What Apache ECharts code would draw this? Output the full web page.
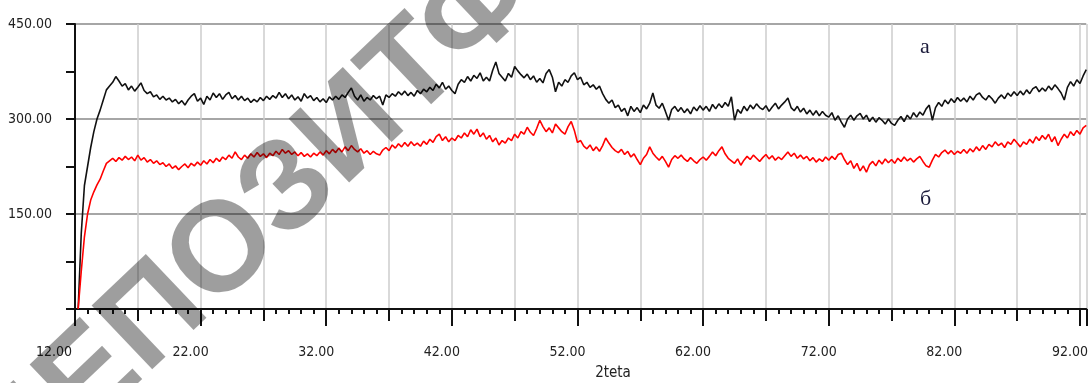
<!DOCTYPE html>
<html>
<head>
<meta charset="utf-8">
<script src="https://cdn.jsdelivr.net/npm/echarts@6/dist/echarts.min.js"></script>
<style>
  html, body { margin: 0; padding: 0; background: #fff; }
  #chart { width: 1091px; height: 383px; }
</style>
</head>
<body>
<div id="chart"></div>
<script>
// 2theta sampling of both scans
const thetaStart = 12.25;
const thetaStep = 0.25;

// curve "а" (black)
const curveA = [
  0, 120, 195, 225, 255, 280, 300, 314, 330, 346, 352, 358,
  367, 360, 352, 356, 346, 352, 344, 350, 357, 345, 340, 343, 335, 338, 331, 336, 330, 333, 327, 331,
  324, 329, 322, 330, 336, 340, 328, 333, 323, 336, 330, 341, 334, 340, 331, 338, 342, 332, 337, 330,
  336, 329, 333, 326, 331, 327, 334, 329, 336, 331, 337, 333, 342, 334, 340, 332, 338, 330, 335, 328,
  340, 333, 337, 329, 334, 327, 332, 326, 335, 330, 336, 331, 338, 334, 342, 349, 336, 330, 338, 328,
  334, 330, 337, 332, 336, 322, 338, 334, 340, 336, 343, 338, 344, 337, 342, 336, 345, 340, 347, 343,
  350, 345, 355, 349, 358, 347, 352, 345, 340, 355, 362, 358, 367, 360, 369, 364, 373, 360, 366, 360,
  377, 390, 372, 366, 360, 372, 366, 383, 376, 370, 365, 371, 362, 368, 358, 364, 357, 372, 378, 366,
  343, 358, 352, 362, 358, 368, 373, 362, 366, 354, 358, 350, 354, 347, 352, 340, 331, 325, 330, 318,
  322, 312, 317, 305, 320, 312, 318, 310, 322, 316, 325, 341, 322, 317, 325, 312, 298, 315, 320, 312,
  318, 310, 316, 308, 319, 313, 321, 314, 320, 312, 323, 316, 324, 318, 326, 320, 335, 298, 315, 309,
  320, 313, 322, 316, 324, 318, 315, 321, 312, 319, 325, 316, 322, 327, 333, 318, 313, 320, 311, 317,
  308, 314, 306, 313, 305, 312, 306, 303, 310, 298, 305, 295, 287, 300, 306, 298, 305, 309, 300, 306,
  296, 303, 295, 302, 298, 292, 300, 293, 290, 298, 304, 296, 306, 300, 310, 303, 311, 306, 316, 322,
  298, 318, 326, 320, 330, 324, 332, 326, 334, 328, 333, 327, 336, 330, 338, 341, 334, 330, 337, 332,
  325, 333, 338, 332, 341, 336, 343, 337, 344, 338, 346, 340, 348, 351, 343, 349, 344, 352, 346, 354,
  348, 341, 330, 350, 359, 352, 362, 356, 368, 378
];

// curve "б" (red)
const curveB = [
  0, 60, 114, 150, 172, 185, 196, 205, 218, 230, 234, 238,
  233, 239, 235, 241, 236, 240, 234, 243, 235, 239, 232, 236, 230, 234, 228, 231, 225, 229, 222, 226,
  220, 225, 229, 223, 230, 226, 232, 227, 234, 229, 236, 231, 238, 233, 240, 236, 243, 238, 248, 240,
  236, 243, 238, 245, 240, 247, 241, 245, 239, 246, 242, 249, 244, 252, 246, 250, 244, 248, 242, 247,
  241, 245, 240, 246, 242, 248, 243, 250, 245, 252, 247, 254, 248, 256, 250, 258, 252, 248, 253, 246,
  250, 244, 249, 245, 243, 251, 255, 250, 259, 254, 261, 256, 263, 257, 264, 258, 262, 257, 265, 260,
  268, 263, 272, 276, 266, 272, 264, 270, 266, 274, 270, 278, 272, 283, 276, 284, 272, 278, 268, 274,
  264, 270, 259, 266, 262, 270, 266, 276, 270, 280, 276, 287, 279, 274, 285, 298, 288, 280, 286, 278,
  292, 286, 280, 276, 288, 296, 282, 263, 266, 257, 253, 259, 250, 256, 249, 258, 270, 262, 255, 250,
  247, 252, 244, 249, 240, 245, 236, 228, 238, 244, 256, 246, 240, 235, 241, 233, 224, 236, 242, 238,
  243, 237, 233, 239, 234, 230, 236, 240, 235, 241, 248, 242, 250, 256, 245, 238, 234, 230, 237, 227,
  235, 241, 236, 243, 238, 233, 239, 244, 237, 242, 235, 240, 236, 242, 248, 241, 246, 238, 243, 237,
  241, 234, 239, 232, 237, 233, 240, 235, 241, 236, 244, 246, 236, 228, 234, 222, 230, 218, 226, 216,
  228, 233, 226, 235, 229, 237, 231, 236, 230, 238, 233, 240, 234, 238, 232, 237, 241, 233, 226, 224,
  235, 244, 240, 247, 251, 245, 250, 244, 249, 246, 252, 246, 253, 248, 256, 250, 258, 252, 260, 256,
  264, 258, 262, 255, 264, 260, 268, 262, 256, 264, 260, 268, 262, 272, 266, 274, 268, 276, 264, 272,
  258, 268, 276, 270, 280, 274, 282, 276, 286, 290
];

const xTickLabels = [12, 22, 32, 42, 52, 62, 72, 82, 92];
const yTickLabels = [150, 300, 450];

const toPoints = arr => arr.map((v, i) => [thetaStart + i * thetaStep, v]);

const narrow = '"Liberation Sans Narrow", "DejaVu Sans Condensed", "Liberation Sans", sans-serif';
const axisBlack = { color: '#111', width: 2 };

const chart = echarts.init(document.getElementById('chart'));
chart.setOption({
  animation: false,
  backgroundColor: '#fff',
  grid: { left: 75, right: 3, top: 24, bottom: 74 },
  xAxis: [
    {
      type: 'value',
      min: 12,
      max: 92.5,
      interval: 5,
      axisLine: { lineStyle: axisBlack },
      axisTick: { length: 12, lineStyle: axisBlack },
      minorTick: { show: true, splitNumber: 5, length: 5, lineStyle: axisBlack },
      splitLine: { show: true, lineStyle: { color: '#cdcdcd', width: 1.5 } },
      axisLabel: {
        margin: 36,
        fontSize: 14,
        color: '#222',
        fontFamily: narrow,
        showMaxLabel: false,
        padding: [0, 20, 0, 0],
        formatter: v => {
          if (!xTickLabels.some(t => Math.abs(t - v) < 1e-6)) return '';
          return Math.round(v) === 12 ? '{f|12.00}' : v.toFixed(2);
        },
        rich: { f: { fontSize: 14, color: '#222', fontFamily: narrow, padding: [0, 22, 0, 0] } }
      }
    },
    {
      type: 'value',
      min: 12,
      max: 92.5,
      interval: 10,
      position: 'bottom',
      axisLine: { show: false },
      axisTick: { length: 17, lineStyle: axisBlack },
      axisLabel: { show: false },
      splitLine: { show: false }
    }
  ],
  yAxis: {
    type: 'value',
    min: 0,
    max: 450,
    interval: 150,
    axisLine: { show: true, lineStyle: axisBlack },
    axisTick: { show: true, length: 9, lineStyle: axisBlack },
    minorTick: { show: true, splitNumber: 2, length: 9, lineStyle: axisBlack },
    splitLine: { show: true, lineStyle: { color: '#a6a6a6', width: 2 } },
    axisLabel: {
      margin: 23,
      fontSize: 14,
      color: '#222',
      fontFamily: narrow,
      formatter: v => (yTickLabels.includes(v) ? v.toFixed(2) : '')
    }
  },
  series: [
    {
      name: 'а',
      type: 'line',
      showSymbol: false,
      data: toPoints(curveA),
      lineStyle: { color: '#111', width: 1.6 },
      z: 3
    },
    {
      name: 'б',
      type: 'line',
      showSymbol: false,
      data: toPoints(curveB),
      lineStyle: { color: '#ff0000', width: 1.6 },
      z: 3
    }
  ],
  graphic: [
    { type: 'text', left: 920, top: 36, style: { text: 'а', font: '22px "Liberation Serif", serif', fill: '#1b1b3b' } },
    { type: 'text', left: 920, top: 188, style: { text: 'б', font: '22px "Liberation Serif", serif', fill: '#1b1b3b' } },
    { type: 'text', x: 613, y: 373, style: { text: '2teta', font: '15px ' + narrow, fill: '#222', align: 'center', verticalAlign: 'middle' } },
    {
      type: 'text', x: 355, y: 128, rotation: 0.76, z: 100,
      style: { text: 'ДЕПОЗИТФОТО', font: 'bold 128px "Liberation Sans", sans-serif', fill: 'rgba(0,0,0,0.38)', align: 'center', verticalAlign: 'middle' }
    }
  ]
});
</script>
</body>
</html>
